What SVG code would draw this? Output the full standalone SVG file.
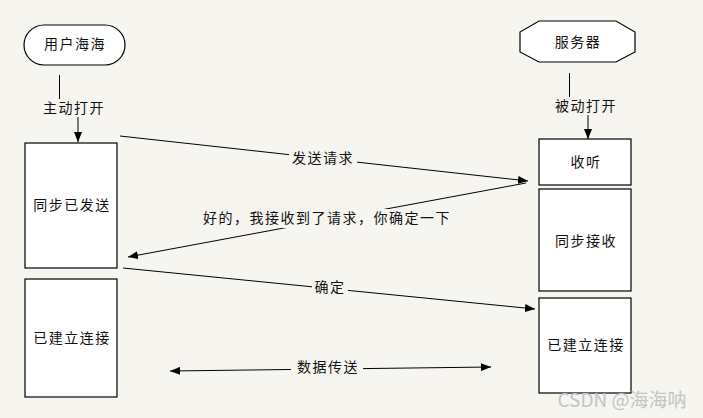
<svg xmlns="http://www.w3.org/2000/svg" width="703" height="418" viewBox="0 0 703 418">
<style>
.t{font-family:"Noto Sans CJK SC","Noto Sans",sans-serif;font-size:14px;fill:#111;text-anchor:middle;letter-spacing:1.5px}
.n{fill:#fff;stroke:#000;stroke-width:1.2}
.c{stroke:#000;stroke-width:1;fill:none}
.bg{fill:#f6f5f0}
</style>
<defs>
<marker id="ah" viewBox="0 0 10 8" refX="10" refY="4" markerWidth="10" markerHeight="8" markerUnits="userSpaceOnUse" orient="auto-start-reverse">
<path d="M0,0 L10,4 L0,8 Z" fill="#000"/>
</marker>
</defs>
<rect width="703" height="418" fill="#f6f5f0"/>
<g id="user"><rect class="n" x="24" y="25" width="101" height="40" rx="20"/><text class="t" x="75" y="49">用户海海</text></g>
<g id="server"><polygon class="n" points="539,21 616,21 635,32 635,52 616,62 539,62 520,52 520,32"/><text class="t" x="578" y="47">服务器</text></g>
<g id="c-sent"><rect class="n" x="25" y="143" width="92" height="125"/><text class="t" x="72" y="210">同步已发送</text></g>
<g id="c-est"><rect class="n" x="25" y="279" width="92" height="118"/><text class="t" x="72" y="343">已建立连接</text></g>
<g id="s-listen"><rect class="n" x="539" y="139" width="92" height="46"/><text class="t" x="586" y="167">收听</text></g>
<g id="s-recv"><rect class="n" x="539" y="189" width="92" height="102"/><text class="t" x="586" y="246">同步接收</text></g>
<g id="s-est"><rect class="n" x="539" y="298" width="92" height="95"/><text class="t" x="586" y="350">已建立连接</text></g>
<g id="connectors">
<line class="c" x1="59.5" y1="75" x2="59.5" y2="100"/>
<line class="c" x1="78" y1="117" x2="78" y2="142" marker-end="url(#ah)"/>
<line class="c" x1="569.5" y1="73" x2="569.5" y2="97"/>
<line class="c" x1="588" y1="115" x2="588" y2="139" marker-end="url(#ah)"/>
<line class="c" x1="120" y1="136" x2="528" y2="181" marker-end="url(#ah)"/>
<line class="c" x1="526" y1="183" x2="128" y2="257" marker-end="url(#ah)"/>
<line class="c" x1="123" y1="268" x2="535" y2="309" marker-end="url(#ah)"/>
<line class="c" x1="170" y1="371" x2="491" y2="367" marker-start="url(#ah)" marker-end="url(#ah)"/>
<g id="labels">
<rect class="bg" x="38" y="99" width="72" height="18"/><text class="t" x="74" y="113">主动打开</text>
<rect class="bg" x="551" y="97" width="70" height="18"/><text class="t" x="586" y="111">被动打开</text>
<rect class="bg" x="289" y="149" width="68" height="19"/><text class="t" x="323" y="163">发送请求</text>
<rect class="bg" x="198" y="209" width="258" height="19"/><text class="t" x="327" y="223">好的，我接收到了请求，你确定一下</text>
<rect class="bg" x="312" y="278" width="36" height="19"/><text class="t" x="330" y="292">确定</text>
<rect class="bg" x="291" y="358" width="72" height="19"/><text class="t" x="328" y="372">数据传送</text>
</g>
</g>
<text x="622" y="407" style="font-family:'Noto Sans CJK SC','Noto Sans',sans-serif;font-size:19px;fill:#c4c4c4;text-anchor:middle">CSDN @海海呐</text>
</svg>
